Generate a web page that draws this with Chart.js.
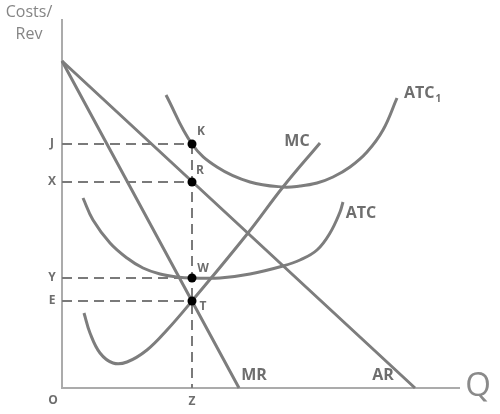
<!DOCTYPE html>
<html>
<head>
<meta charset="utf-8">
<script src="https://cdn.jsdelivr.net/npm/chart.js@4.4.1/dist/chart.umd.min.js"></script>
<style>
  body { margin: 0; background: #fff; }
  #wrap { width: 500px; height: 414px; }
</style>
</head>
<body>
<div id="wrap"><canvas id="c" width="500" height="414"></canvas></div>
<script>
const CURVE = '#7d7d7d';
const AXIS  = '#ababab';
const LBL   = '#6e6e6e';

// quantity at Z and the price levels J, X, Y, E
const qZ = 130;
const levelNames  = ['J', 'X', 'Y', 'E'];
const levelValues = [244, 206, 110, 87];

// demand (AR) and marginal revenue (MR)
const arX = [0, 353];
const arY = [327, 0];
const mrX = [0, 177];
const mrY = [327, 0];

// marginal cost
const mcX = [22, 28, 38, 51, 65, 85, 105, 130, 186, 221, 258];
const mcY = [75, 55, 35, 25, 26, 38, 58, 87, 155, 201, 245];

// average total cost
const atcX = [21, 31, 48, 65, 81, 98, 115, 131, 158, 188, 221, 238, 255, 268, 278, 281];
const atcY = [190, 168, 145, 130, 120, 114, 111, 110, 110, 114, 122, 128, 138, 155, 176, 186];

// average total cost 1
const atc1X = [104, 130, 155, 188, 221, 238, 255, 271, 288, 305, 321, 335];
const atc1Y = [293, 244, 221, 206, 201, 202, 205, 211, 221, 236, 258, 290];

// marked points
const ptNames = ['K', 'R', 'W', 'T'];
const ptY     = [244, 206, 110, 87];

const xMax = 398, yMax = 369;

const pts = (xs, ys) => xs.map((x, i) => ({ x, y: ys[i] }));

const curve = (label, data) => ({
  label, data, borderColor: CURVE, borderWidth: 3, pointRadius: 0,
  tension: 0.4, fill: false, clip: 6
});

const dashed = [];
levelValues.forEach((v) => {
  dashed.push({ data: [{ x: 0, y: v }, { x: qZ, y: v }], borderColor: '#7a7a7a', borderWidth: 2, borderDash: [10, 6], pointRadius: 0, clip: 6 });
});
dashed.push({ data: [{ x: qZ, y: levelValues[0] }, { x: qZ, y: 0 }], borderColor: '#7a7a7a', borderWidth: 2, borderDash: [10, 6], pointRadius: 0, clip: 6 });

const labels = {
  id: 'labels',
  afterDatasetsDraw(chart) {
    const { ctx, scales: { x, y } } = chart;
    const put = (t, px, py, font, color, align) => {
      ctx.font = font;
      ctx.fillStyle = color;
      ctx.textAlign = align || 'center';
      ctx.textBaseline = 'middle';
      ctx.fillText(t, px, py);
      return ctx.measureText(t).width;
    };
    ctx.save();
    put('Costs/', 29, 12, '16px "Open Sans"', '#858585');
    put('Rev', 29, 34, '16px "Open Sans"', '#858585');
    levelNames.forEach((n, i) => put(n, 52, y.getPixelForValue(levelValues[i]), 'bold 12px "Open Sans"', LBL));
    put('O', 53, 401, 'bold 12px "Open Sans"', LBL);
    put('Z', x.getPixelForValue(qZ), 402, 'bold 12px "Open Sans"', LBL);
    const zx = x.getPixelForValue(qZ);
    const off = [[9, -12], [8, -11], [11, -9], [11, 6]];
    ptNames.forEach((n, i) => put(n, zx + off[i][0], y.getPixelForValue(ptY[i]) + off[i][1], 'bold 12px "Open Sans"', LBL));
    put('MC', 297, 141, 'bold 16px "Open Sans"', LBL);
    put('ATC', 361, 213, 'bold 16px "Open Sans"', LBL);
    const w = put('ATC', 404, 93, 'bold 16px "Open Sans"', LBL, 'left');
    put('1', 404 + w + 1, 99, 'bold 10px "Open Sans"', LBL, 'left');
    put('MR', 254, 375, 'bold 16px "Open Sans"', LBL);
    put('AR', 383, 375, 'bold 16px "Open Sans"', LBL);
    put('Q', 478, 387, '33px "Open Sans"', '#8a8a8a');
    ctx.restore();
  }
};

new Chart(document.getElementById('c'), {
  type: 'line',
  data: {
    datasets: [
      { label: 'points', data: ptY.map(v => ({ x: qZ, y: v })), showLine: false, pointRadius: 4.5, pointBackgroundColor: '#000', pointBorderWidth: 0, clip: 6 },
      curve('MC', pts(mcX, mcY)),
      curve('ATC', pts(atcX, atcY)),
      curve('ATC1', pts(atc1X, atc1Y)),
      curve('AR', pts(arX, arY)),
      curve('MR', pts(mrX, mrY)),
      ...dashed,
      { label: 'axes', data: [{ x: 0, y: yMax }, { x: 0, y: 0 }, { x: xMax, y: 0 }], borderColor: AXIS, borderWidth: 2, pointRadius: 0, tension: 0, clip: 6 }
    ]
  },
  options: {
    responsive: false,
    animation: false,
    layout: { padding: { left: 62, right: 40, top: 19, bottom: 26 } },
    plugins: { legend: { display: false }, tooltip: { enabled: false } },
    scales: {
      x: { type: 'linear', min: 0, max: xMax, display: false },
      y: { type: 'linear', min: 0, max: yMax, display: false }
    }
  },
  plugins: [labels]
});
</script>
</body>
</html>
